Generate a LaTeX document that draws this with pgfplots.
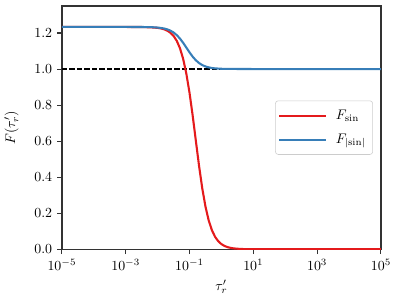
\documentclass[border=0pt]{standalone}
\usepackage{pgfplots}
\pgfplotsset{compat=1.18}
\definecolor{cred}{HTML}{E41A1C}
\definecolor{cblue}{HTML}{377EB8}
\begin{document}
\begin{tikzpicture}
\begin{axis}[
  scale only axis,
  width=229.7pt, height=175.2pt,
  xmode=log,
  xmin=1e-5, xmax=1e5,
  ymin=0, ymax=1.35,
  xtick={1e-5,1e-3,1e-1,1e1,1e3,1e5},
  minor xtick={},
  ytick={0,0.2,0.4,0.6,0.8,1.0,1.2},
  yticklabel style={/pgf/number format/.cd,fixed,fixed zerofill,precision=1},
  axis line style={black!80, line width=0.9pt},
  tick style={black!80, line width=0.8pt},
  tick align=outside,
  major tick length=3.5pt,
  xtick pos=bottom, ytick pos=left,
  xlabel={$\tau_r'$},
  ylabel={$F(\tau_r')$},
  ylabel style={at={(axis description cs:-0.158,0.5)}, anchor=center},
  legend style={at={(0.975,0.5)}, anchor=east, draw=black!20, rounded corners=2pt,
    fill=white, fill opacity=0.8, text opacity=1, inner xsep=2pt, inner ysep=4.5pt,
    row sep=5pt, column sep=3pt, font=\normalsize,
    nodes={inner xsep=3pt, inner ysep=2pt}},
  legend cell align=left,
  legend image code/.code={\draw[#1, line width=1.5pt] (0pt,0pt) -- (34pt,0pt);},
  clip=true,
]
\addplot[black, line width=1.1pt, dash pattern=on 3.7pt off 1.7pt, forget plot] coordinates {(1e-5,1) (1e5,1)};
\addplot[cred, line width=1.5pt] coordinates {
(1e-5,1.2337) (1e-3,1.2336) (3.162e-3,1.2332) (6.310e-3,1.2313) (1e-2,1.2285) (1.259e-2,1.2255) (1.585e-2,1.2208) (1.995e-2,1.2131)
(2.512e-2,1.2017) (3.162e-2,1.1838) (3.981e-2,1.1564) (5.012e-2,1.1156)
(6.310e-2,1.0564) (7.943e-2,0.9744) (0.1,0.8678) (0.1259,0.7395) (0.1585,0.5991)
(0.1995,0.4606) (0.2512,0.3370) (0.3162,0.2365) (0.3981,0.1606) (0.5012,0.1064)
(0.6310,0.0694) (0.7943,0.0447) (1,0.02858) (1.259,0.01818) (1.585,0.01154) (1.995,0.00730) (2.512,0.00462)
(3.981,0.00184) (6.310,0.00073) (10,0.00029) (100,0.000003) (1e5,0)
};
\addlegendentry{$F_{\mathrm{sin}}$}
\addplot[cblue, line width=1.5pt] coordinates {
(1e-5,1.2337) (1e-3,1.2337) (3.162e-3,1.2333) (6.310e-3,1.2325) (1e-2,1.2302) (1.259e-2,1.2281) (1.585e-2,1.2251) (1.995e-2,1.2203)
(2.512e-2,1.2132) (3.162e-2,1.2028) (3.981e-2,1.1882) (5.012e-2,1.1690)
(6.310e-2,1.1454) (7.943e-2,1.1191) (0.1,1.0926) (0.1259,1.0684) (0.1585,1.0484)
(0.1995,1.0331) (0.2512,1.0220) (0.3162,1.0144) (0.3981,1.0093) (0.5012,1.0059)
(0.6310,1.0038) (1,1.0015) (3.162,1.0005) (10,1.00002) (1e5,1)
};
\addlegendentry{$F_{|\mathrm{sin}|}$}
\end{axis}
\pgfresetboundingbox
\path[use as bounding box] (-44.6pt,-40.8pt) rectangle (242.7pt,179.5pt);
\end{tikzpicture}
\end{document}
